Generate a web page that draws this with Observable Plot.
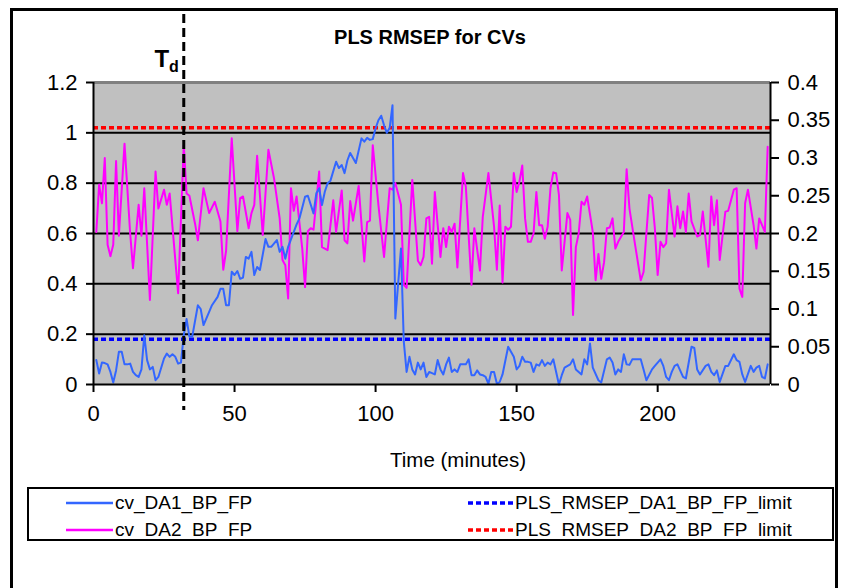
<!DOCTYPE html>
<html>
<head>
<meta charset="utf-8">
<script src="https://cdn.jsdelivr.net/npm/d3@7"></script>
<script src="https://cdn.jsdelivr.net/npm/@observablehq/plot@0.6"></script>
<style>
  body { margin: 0; background: #fff; font-family: "Liberation Sans", Arial, sans-serif; }
  #wrap { position: relative; width: 842px; height: 588px; overflow: hidden; }
  #border { position: absolute; left: 10px; top: 8px; width: 828px; height: 600px; border: 3px solid #000; box-sizing: border-box; }
  #chart { position: absolute; left: 0; top: 0; }
  #title { position: absolute; left: 280px; width: 300px; top: 25px; text-align: center; font-weight: bold; font-size: 20px; line-height: 24px; }
  #xlabel { position: absolute; left: 308px; width: 300px; top: 448px; text-align: center; font-size: 20.5px; line-height: 24px; }
  #legend { position: absolute; left: 27px; top: 487px; width: 807px; height: 54px; border: 2px solid #000; box-sizing: border-box; background: #fff; }
  .item { position: absolute; height: 24px; font-size: 19px; line-height: 24px; white-space: nowrap; }
  .item svg { position: absolute; left: 0; top: 0; }
  .item span { position: absolute; top: 0; }
</style>
</head>
<body>
<div id="wrap">
  <div id="border"></div>
  <div id="chart"></div>
  <div id="title">PLS RMSEP for CVs</div>
  <div id="xlabel">Time (minutes)</div>
  <div id="legend"></div>
</div>
<script>
// cv_DA1_BP_FP, left axis: [minute, value]
const da1 = [
  [1,0.097],[2,0.044],[3,0.087],[4,0.085],[5,0.080],[6,0.050],[7,0.008],[8,0.056],[9,0.130],[10,0.130],
  [11,0.080],[12,0.080],[13,0.083],[14,0.050],[15,0.037],[16,0.030],[17,0.060],[18,0.196],[19,0.097],[20,0.060],
  [21,0.070],[22,0.017],[23,0.030],[25,0.103],[26,0.123],[27,0.110],[28,0.120],[29,0.110],[30,0.083],[31,0.087],
  [32,0.196],[33,0.260],[34,0.190],[35,0.190],[37,0.315],[38,0.300],[39,0.236],[41,0.289],[42,0.315],[44,0.348],
  [45,0.380],[46,0.380],[47,0.315],[48,0.315],[49,0.448],[50,0.435],[51,0.451],[52,0.420],[53,0.425],[54,0.507],
  [55,0.500],[56,0.527],[57,0.435],[58,0.467],[59,0.455],[61,0.578],[62,0.547],[63,0.547],[65,0.574],[66,0.527],
  [67,0.547],[68,0.500],[69,0.547],[72,0.636],[73,0.660],[75,0.746],[76,0.750],[78,0.680],[79,0.760],[80,0.780],
  [81,0.713],[82,0.766],[83,0.800],[84,0.810],[86,0.885],[87,0.860],[88,0.872],[89,0.840],[90,0.890],[91,0.920],
  [92,0.900],[93,0.880],[95,0.978],[96,0.965],[97,0.980],[98,0.972],[99,0.975],[100,1.018],[101,1.050],[102,1.068],
  [103,1.030],[104,1.000],[105,1.020],[106,1.110],[107,0.262],[109,0.540],[110,0.170],[111,0.050],[112,0.110],[113,0.060],
  [114,0.040],[115,0.087],[116,0.060],[117,0.087],[118,0.030],[119,0.050],[121,0.040],[122,0.097],[123,0.060],[124,0.040],
  [125,0.080],[126,0.107],[127,0.050],[128,0.060],[129,0.050],[130,0.080],[132,0.080],[133,0.100],[134,0.037],[135,0.037],
  [136,0.056],[137,0.040],[138,0.037],[139,0.030],[140,0.003],[141,0.050],[142,0.050],[143,0.003],[144,0.010],[145,0.040],
  [147,0.150],[148,0.130],[149,0.110],[150,0.060],[151,0.074],[152,0.110],[153,0.090],[154,0.090],[155,0.087],[156,0.050],
  [157,0.080],[158,0.075],[159,0.097],[160,0.074],[161,0.087],[162,0.080],[163,0.100],[165,0.000],[166,0.037],[167,0.067],
  [169,0.080],[170,0.100],[171,0.060],[173,0.040],[174,0.100],[175,0.080],[176,0.163],[177,0.067],[179,0.017],[180,0.008],
  [182,0.100],[183,0.107],[184,0.087],[185,0.040],[186,0.060],[187,0.050],[188,0.120],[189,0.080],[190,0.078],[191,0.100],
  [194,0.100],[195,0.060],[196,0.017],[198,0.060],[199,0.074],[201,0.100],[202,0.074],[203,0.030],[204,0.017],[205,0.050],
  [206,0.074],[207,0.080],[209,0.030],[210,0.024],[212,0.150],[213,0.145],[214,0.060],[215,0.040],[217,0.074],[218,0.080],
  [219,0.050],[220,0.037],[221,0.056],[222,0.010],[224,0.074],[225,0.074],[227,0.120],[228,0.097],[229,0.090],[230,0.040],
  [231,0.010],[233,0.074],[234,0.050],[235,0.067],[236,0.074],[237,0.030],[238,0.024],[239,0.080]
];

// cv_DA2_BP_FP, right axis: [minute, value]
const da2 = [
  [1,0.202],[2,0.265],[3,0.240],[4,0.300],[5,0.185],[6,0.170],[7,0.185],[8,0.296],[9,0.197],[11,0.319],
  [13,0.200],[14,0.154],[16,0.238],[17,0.197],[18,0.260],[20,0.112],[22,0.282],[23,0.233],[25,0.258],[26,0.238],
  [27,0.253],[30,0.121],[32,0.317],[33,0.253],[34,0.250],[36,0.213],[37,0.191],[39,0.260],[41,0.227],[43,0.242],
  [45,0.216],[46,0.152],[47,0.177],[49,0.326],[51,0.203],[52,0.247],[53,0.249],[55,0.207],[56,0.227],[57,0.238],
  [58,0.303],[60,0.198],[62,0.311],[64,0.273],[66,0.220],[67,0.165],[68,0.158],[69,0.114],[70,0.260],[71,0.230],
  [72,0.249],[74,0.180],[75,0.129],[76,0.203],[77,0.207],[78,0.205],[80,0.282],[81,0.182],[83,0.178],[85,0.244],
  [86,0.202],[88,0.257],[89,0.191],[90,0.187],[91,0.243],[92,0.217],[94,0.263],[96,0.163],[97,0.215],[98,0.217],
  [99,0.317],[101,0.238],[103,0.169],[105,0.260],[106,0.258],[107,0.267],[109,0.238],[110,0.132],[111,0.128],[113,0.271],
  [115,0.164],[116,0.158],[117,0.169],[118,0.220],[119,0.222],[120,0.160],[121,0.255],[123,0.169],[124,0.207],[125,0.182],
  [126,0.209],[127,0.202],[128,0.213],[129,0.155],[131,0.280],[132,0.262],[134,0.132],[135,0.207],[137,0.151],[138,0.222],
  [140,0.280],[142,0.209],[143,0.152],[144,0.237],[145,0.135],[146,0.209],[147,0.205],[148,0.209],[149,0.280],[150,0.255],
  [151,0.269],[152,0.290],[153,0.220],[154,0.189],[155,0.189],[156,0.200],[157,0.255],[158,0.211],[159,0.211],[160,0.193],
  [161,0.209],[162,0.260],[163,0.281],[164,0.280],[165,0.251],[166,0.151],[168,0.227],[169,0.218],[170,0.092],[171,0.182],
  [172,0.200],[173,0.242],[174,0.238],[175,0.249],[177,0.202],[178,0.138],[179,0.173],[180,0.140],[181,0.162],[182,0.207],
  [183,0.208],[184,0.220],[185,0.180],[186,0.189],[188,0.202],[189,0.285],[190,0.233],[192,0.185],[194,0.138],[195,0.149],
  [197,0.251],[198,0.247],[199,0.207],[200,0.145],[201,0.189],[202,0.182],[203,0.187],[204,0.258],[206,0.196],[207,0.236],
  [208,0.207],[209,0.229],[210,0.202],[211,0.253],[212,0.216],[214,0.196],[215,0.198],[216,0.229],[218,0.156],[219,0.249],
  [220,0.211],[221,0.244],[222,0.165],[224,0.229],[225,0.230],[227,0.258],[228,0.260],[229,0.127],[230,0.116],[231,0.240],
  [232,0.258],[234,0.211],[235,0.180],[236,0.220],[237,0.211],[238,0.202],[239,0.315]
];

const da1Limit = 0.18;   // PLS_RMSEP_DA1_BP_FP_limit (left axis)
const da2Limit = 0.34;   // PLS_RMSEP_DA2_BP_FP_limit (right axis)
const tdTime = 32;       // detection time T_d
const xDomain = [0, 240];
const xTicks = [0, 50, 100, 150, 200];
const leftTicks = [0, 0.2, 0.4, 0.6, 0.8, 1, 1.2];
const rightTicks = [0, 0.05, 0.1, 0.15, 0.2, 0.25, 0.3, 0.35, 0.4];
const gridLines = [0.2, 0.4, 0.6, 0.8, 1];
const axisRatio = 1.2 / 0.4; // right axis 0–0.4 shares the frame with left axis 0–1.2

const blue = "#3366ff", magenta = "#ff00ff";
const legendItems = [
  {label: "cv_DA1_BP_FP", color: blue, dashed: false, col: 0, row: 0},
  {label: "cv_DA2_BP_FP", color: magenta, dashed: false, col: 0, row: 1},
  {label: "PLS_RMSEP_DA1_BP_FP_limit", color: "#0000ff", dashed: true, col: 1, row: 0},
  {label: "PLS_RMSEP_DA2_BP_FP_limit", color: "#ff0000", dashed: true, col: 1, row: 1}
];

const chart = Plot.plot({
  width: 842,
  height: 588,
  marginLeft: 93,
  marginRight: 72,
  marginTop: 82,
  marginBottom: 204,
  x: {domain: xDomain},
  y: {domain: [0, 1.2]},
  style: {fontFamily: "'Liberation Sans', Arial, sans-serif", fontSize: "22px", color: "#000", background: "transparent", overflow: "visible"},
  marks: [
    Plot.frame({fill: "#c0c0c0", stroke: null}),
    Plot.ruleY([1.2], {stroke: "#808080", strokeWidth: 3}),
    Plot.ruleY(gridLines, {stroke: "#000", strokeWidth: 2}),
    Plot.ruleY([da2Limit * axisRatio], {stroke: "#ff0000", strokeWidth: 3.5, strokeDasharray: "5,3"}),
    Plot.ruleY([da1Limit], {stroke: "#0000ff", strokeWidth: 3.5, strokeDasharray: "5,3"}),
    Plot.line(da2, {x: d => d[0], y: d => d[1] * axisRatio, stroke: magenta, strokeWidth: 2}),
    Plot.line(da1, {x: d => d[0], y: d => d[1], stroke: blue, strokeWidth: 2}),
    Plot.ruleX([tdTime], {stroke: "#000", strokeWidth: 3, strokeDasharray: "9,5", insetTop: -68, insetBottom: -26}),
    Plot.text([tdTime], {x: d => d, frameAnchor: "top", lineAnchor: "middle", text: () => "T", dx: -22, dy: -23, fontSize: 24, fontWeight: "bold"}),
    Plot.text([tdTime], {x: d => d, frameAnchor: "top", lineAnchor: "middle", text: () => "d", dx: -10, dy: -16, fontSize: 16, fontWeight: "bold"}),
    Plot.ruleX([xDomain[0]], {stroke: "#000", strokeWidth: 2}),
    Plot.ruleX([xDomain[1]], {stroke: "#000", strokeWidth: 2}),
    Plot.ruleY([0], {stroke: "#000", strokeWidth: 2}),
    Plot.axisY({anchor: "left", ticks: leftTicks, tickSize: 7, tickPadding: 9, strokeWidth: 2, tickFormat: d => String(d), label: null}),
    Plot.axisY({anchor: "right", ticks: rightTicks.map(v => v * axisRatio), tickSize: 8, tickPadding: 9, strokeWidth: 2,
                tickFormat: d => String(+(d / axisRatio).toFixed(2)), label: null}),
    Plot.axisX({ticks: xTicks, tickSize: 8, tickPadding: 13, strokeWidth: 2, tickFormat: d => String(d), label: null})
  ]
});
document.getElementById("chart").appendChild(chart);

// legend
const legend = d3.select("#legend");
const colX = [[36, 86], [438, 486]];
const rowY = [2, 29];
for (const it of legendItems) {
  const [sx, tx] = colX[it.col];
  const g = legend.append("div").attr("class", "item")
    .style("left", sx + "px").style("top", rowY[it.row] + "px").style("width", "400px");
  const svg = g.append("svg").attr("width", 50).attr("height", 24);
  svg.append("line").attr("x1", 1).attr("x2", 48).attr("y1", 12).attr("y2", 12)
    .attr("stroke", it.color).attr("stroke-width", it.dashed ? 3.5 : 2.5)
    .attr("stroke-dasharray", it.dashed ? "5,3" : null);
  g.append("span").style("left", (tx - sx) + "px").text(it.label);
}
</script>
</body>
</html>
